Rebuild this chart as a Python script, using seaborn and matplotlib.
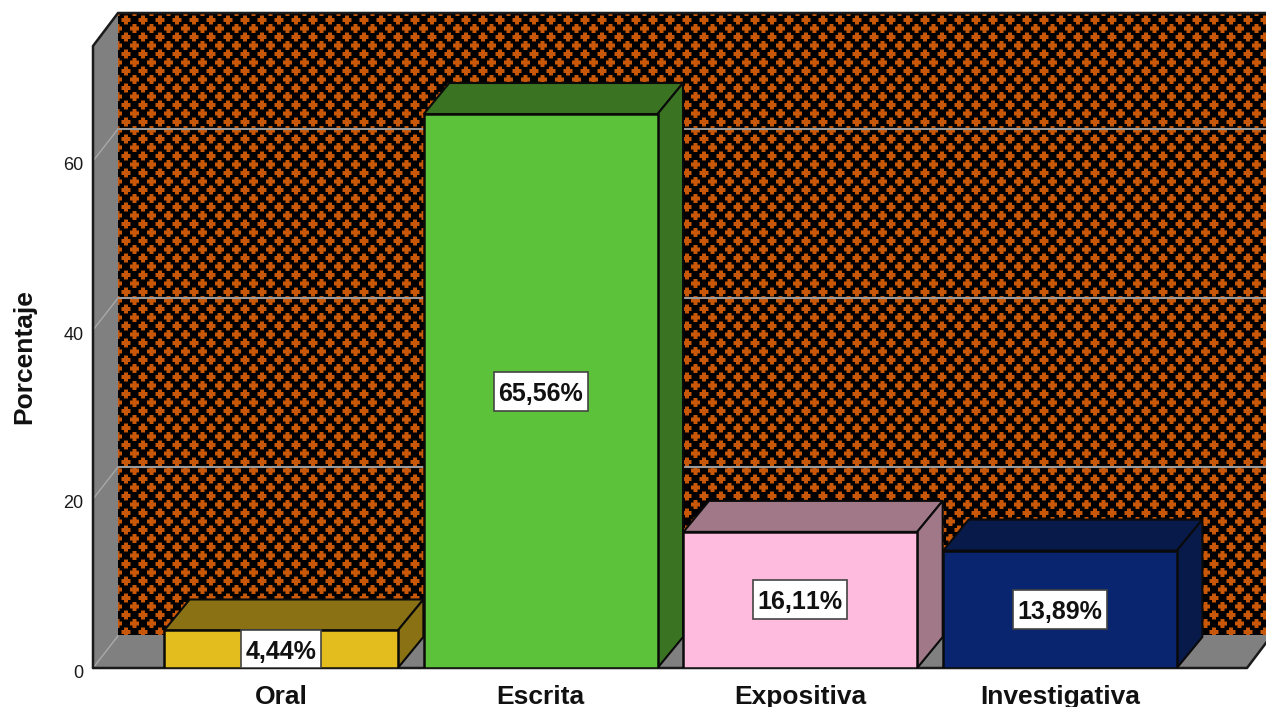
import numpy as np
import pandas as pd
import matplotlib
matplotlib.use("Agg")
import matplotlib.pyplot as plt
from matplotlib.patches import Polygon, Rectangle
from matplotlib.transforms import ScaledTranslation
import seaborn as sns

# Values
categories = ["Oral", "Escrita", "Expositiva", "Investigativa"]
percentages = [4.44, 65.56, 16.11, 13.89]
value_labels = ["4,44%", "65,56%", "16,11%", "13,89%"]
y_ticks = [0, 20, 40, 60]
y_title = "Porcentaje"

# Colours
front_colors = ["#E3BC1E", "#5CC23A", "#FFBBDD", "#0A2570"]
shade_colors = ["#8A7214", "#3A7423", "#A07888", "#071A4A"]
wall_gray = "#808080"
grid_gray = "#9A9A9A"
cross_orange = np.array([200, 88, 8]) / 255

# Canvas layout in pixels
W, H = 1266, 707
LEFT, RIGHT, BOTTOM, TOP = 93, 1247, 668, 46
WALL_DX, WALL_DY = 25, 33
GRID_DY = 32
BAR_DX, BAR_DY = 25.5, 31
PX_PER_CAT = 259.67
PX_PER_UNIT = 8.45
CAT0_X = 281

sns.set_theme(style="white")
plt.rcParams["font.family"] = ["Liberation Sans", "DejaVu Sans"]
plt.rcParams["text.kerning_factor"] = 6

fig = plt.figure(figsize=(W / 100, H / 100), dpi=100, facecolor="white")

# Back wall texture: staggered orange crosses on black
bg = fig.add_axes([0, 0, 1, 1])
bg.axis("off")
wall_l, wall_r, wall_t, wall_b = LEFT + WALL_DX, W, TOP - WALL_DY, BOTTOM - WALL_DY
ss = 4
xs = (np.arange((wall_r - wall_l) * ss) + 0.5) / ss + wall_l
ys = (np.arange((wall_b - wall_t) * ss) + 0.5) / ss + wall_t
xx, yy = np.meshgrid(xs, ys)


def cross_mask(x0, y0, period=17.0, half_len=4.5, half_w=1.9):
    dx = np.abs((xx - x0 + period / 2) % period - period / 2)
    dy = np.abs((yy - y0 + period / 2) % period - period / 2)
    return ((dx <= half_len) & (dy <= half_w)) | ((dy <= half_len) & (dx <= half_w))


mask = cross_mask(7.0, 3.0) | cross_mask(15.5, 11.5)
mask = mask.reshape(len(ys) // ss, ss, len(xs) // ss, ss).mean(axis=(1, 3))
texture = mask[..., None] * cross_orange
bg.imshow(texture, extent=(wall_l, wall_r, wall_b, wall_t), aspect="auto",
          interpolation="nearest", zorder=1)
bg.set_xlim(0, W)
bg.set_ylim(H, 0)

# Main axes share the front plane of the box
ax = fig.add_axes([LEFT / W, 1 - BOTTOM / H, (RIGHT - LEFT) / W, (BOTTOM - TOP) / H])
ax.patch.set_visible(False)
df = pd.DataFrame({"categoria": categories, "porcentaje": percentages})
sns.barplot(data=df, x="categoria", y="porcentaje", hue="categoria",
            palette=front_colors, width=0.9, dodge=False, legend=False,
            edgecolor="#0A0A0A", linewidth=1.8, saturation=1, ax=ax)

ax.set_xlim((LEFT - CAT0_X) / PX_PER_CAT, (RIGHT - CAT0_X) / PX_PER_CAT)
ax.set_ylim(0, (BOTTOM - TOP) / PX_PER_UNIT)
xl, xr = ax.get_xlim()
ymax = ax.get_ylim()[1]
wdx, wdy = WALL_DX / PX_PER_CAT, WALL_DY / PX_PER_UNIT
bdx, bdy = BAR_DX / PX_PER_CAT, BAR_DY / PX_PER_UNIT
gdy = GRID_DY / PX_PER_UNIT

# Side wall and floor of the box
ax.add_patch(Polygon([(xl, 0), (xl, ymax), (xl + wdx, ymax + wdy), (xl + wdx, wdy)],
                     facecolor=wall_gray, edgecolor="none", clip_on=False, zorder=0.3))
ax.add_patch(Polygon([(xl, 0), (xl + wdx, wdy), (xr + wdx, wdy), (xr, 0)],
                     facecolor=wall_gray, edgecolor="none", clip_on=False, zorder=0.3))
outline = dict(color="#1A1A1A", clip_on=False, zorder=0.6, solid_capstyle="round")
ax.plot([xl, xl, xl + wdx, xr + wdx], [0, ymax, ymax + wdy, ymax + wdy], lw=1.8, **outline)
ax.plot([xl, xr, xr + wdx], [0, 0, wdy], lw=1.8, **outline)

# Gridlines run up the side wall and across the back wall
for t in y_ticks:
    ax.plot([xl, xl + wdx], [t, t + gdy], color="#A8A8A8", lw=1.0, clip_on=False, zorder=0.4)
    if t > 0:
        ax.plot([xl + wdx, xr + wdx], [t + gdy, t + gdy], color=grid_gray, lw=1.5,
                clip_on=False, zorder=0.4)

# Extruded top and side of each bar
for bar, shade, value in zip(ax.patches[:len(percentages)], shade_colors, percentages):
    x0, x1 = bar.get_x(), bar.get_x() + bar.get_width()
    ax.add_patch(Polygon([(x0, value), (x0 + bdx, value + bdy), (x1 + bdx, value + bdy), (x1, value)],
                         facecolor=shade, edgecolor="#0A0A0A", lw=1.5, clip_on=False, zorder=0.8))
    ax.add_patch(Polygon([(x1, 0), (x1, value), (x1 + bdx, value + bdy), (x1 + bdx, bdy)],
                         facecolor=shade, edgecolor="#0A0A0A", lw=1.5, clip_on=False, zorder=0.8))

# Value labels centred on the front faces, each on a white box sized to its text
renderer = fig.canvas.get_renderer()
for i, (value, label) in enumerate(zip(percentages, value_labels)):
    centre = value / 2
    txt = ax.text(i, centre, label, ha="center", va="center_baseline", fontsize=18,
                  fontweight="bold", color="#111111", zorder=5)
    box_w = (txt.get_window_extent(renderer).width + 9) / PX_PER_CAT
    box_h = 39 / PX_PER_UNIT
    y0 = max(centre - box_h / 2, 0)
    y1 = min(centre + box_h / 2, value)
    ax.add_patch(Rectangle((i - box_w / 2, y0), box_w, y1 - y0, facecolor="white",
                           edgecolor="#444444", lw=1.2, zorder=4))

# Axis text
ax.set_xticks(range(len(categories)))
ax.set_xticklabels(categories, fontsize=19, fontweight="bold", color="#111111")
ax.set_yticks(y_ticks)
ax.set_yticklabels([str(t) for t in y_ticks], fontsize=13, color="#1A1A1A")
ax.tick_params(axis="both", length=0)
ax.tick_params(axis="x", pad=12)
ax.tick_params(axis="y", pad=7)
shift_down = ScaledTranslation(0, -3 / 100, fig.dpi_scale_trans)
for tick_label in ax.get_yticklabels():
    tick_label.set_transform(tick_label.get_transform() + shift_down)
ax.set_xlabel("")
ax.set_ylabel(y_title, fontsize=19, fontweight="bold", color="#111111", labelpad=0)
ax.yaxis.set_label_coords(-(LEFT - 36) / (RIGHT - LEFT), 0.5 - (357 - (BOTTOM + TOP) / 2) / (BOTTOM - TOP))
for spine in ax.spines.values():
    spine.set_visible(False)

fig.savefig("out.png", dpi=100)
